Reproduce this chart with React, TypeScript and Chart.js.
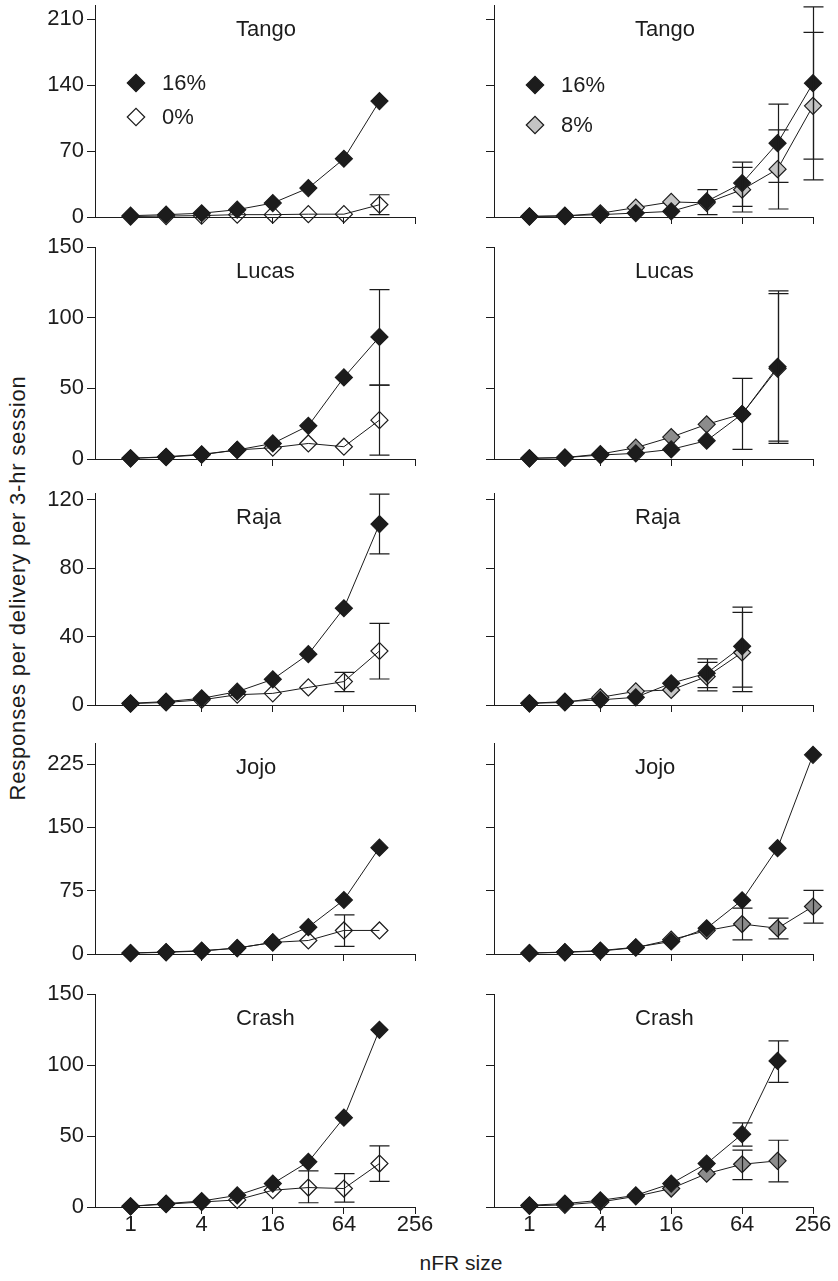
import React, { useEffect, useRef } from 'react';
import { Chart, registerables } from 'chart.js';

Chart.register(...registerables);

// ---------- data ----------
const nfrSizes = [1, 2, 4, 8, 16, 32, 64, 128, 256];
const xTickSizes = [1, 4, 16, 64, 256];

const tangoTicks = [0, 70, 140, 210];
const lucasTicks = [0, 50, 100, 150];
const rajaTicks = [0, 40, 80, 120];
const jojoTicks = [0, 75, 150, 225];
const crashTicks = [0, 50, 100, 150];

type Range = [number, number] | null;

// Tango
const tango16L = [1.4, 2.5, 4, 7.8, 14.8, 30.7, 61.8, 123, null];
const tango0L = [0.5, 1, 1.5, 2.5, 2.5, 3, 3, 13, null];
const tango16LErr: Range[] = [null, null, null, null, null, null, null, null, null];
const tango0LErr: Range[] = [null, null, null, null, null, null, null, [2.5, 23.6], null];
const tango16R = [0.7, 1.4, 2.5, 4.2, 6, 16.6, 36, 78.4, 142];
const tango8R = [0.5, 1, 4, 10, 16, 15, 29, 50.8, 118];
const tango16RErr: Range[] = [null, null, null, null, null, [2.5, 29], [11.3, 58.2], [36.7, 119.7], [61.4, 223]];
const tango8RErr: Range[] = [null, null, null, null, null, null, [5.3, 52.6], [8.5, 92.5], [39.5, 196]];

// Lucas
const lucas16L = [0.5, 1.6, 3.3, 6.4, 11, 23.5, 57.7, 86.4, null];
const lucas0L = [0.5, 1.3, 3, 6.4, 8, 11, 8.7, 27.5, null];
const lucas16LErr: Range[] = [null, null, null, null, null, null, null, [52.3, 119.8], null];
const lucas0LErr: Range[] = [null, null, null, null, null, null, null, [2.8, 52.3], null];
const lucas16R = [0.5, 1, 2.8, 4, 6.8, 13, 31.8, 65.2, null];
const lucas8R = [0.5, 1, 3.5, 8, 15.5, 24.5, 31.8, 64, null];
const lucas16RErr: Range[] = [null, null, null, null, null, null, [6.8, 57], [12.7, 118.9], null];
const lucas8RErr: Range[] = [null, null, null, null, null, null, null, [11, 117], null];

// Raja
const raja16L = [1, 2, 3.9, 7.8, 15, 29.7, 56.6, 105.8, null];
const raja0L = [0.8, 1.5, 3, 6, 6.8, 10.3, 13.7, 31.6, null];
const raja16LErr: Range[] = [null, null, null, null, null, null, null, [88.4, 123.3], null];
const raja0LErr: Range[] = [null, null, null, null, null, null, [7.8, 19.1], [15.2, 47.8], null];
const raja16R = [1, 2, 3, 4.5, 12.7, 18.6, 34.3, null, null];
const raja8R = [1, 1.5, 4.5, 8, 8.8, 16.6, 30.7, null, null];
const raja16RErr: Range[] = [null, null, null, null, null, [10.2, 27], [10.4, 57.2], null, null];
const raja8RErr: Range[] = [null, null, null, null, null, [8.3, 24.9], [7.8, 54.2], null, null];

// Jojo
const jojo16L = [1.2, 2.4, 3.9, 7, 13.7, 31.8, 64, 126, null];
const jojo0L = [1, 2, 3.5, 7, 13.7, 16, 27.9, 27.9, null];
const jojo16LErr: Range[] = [null, null, null, null, null, null, null, null, null];
const jojo0LErr: Range[] = [null, null, null, null, null, null, [9, 46.3], null, null];
const jojo16R = [1.2, 2.3, 4, 8, 14.8, 30.5, 63.7, 125.4, 236];
const jojo8R = [1, 2, 3.5, 7.5, 17, 27.7, 35.5, 30.5, 56.3];
const jojo16RErr: Range[] = [null, null, null, null, null, null, null, null, null];
const jojo8RErr: Range[] = [null, null, null, null, null, null, [16.8, 54.3], [18, 42.6], [36.7, 75.4]];

// Crash
const crash16L = [0.5, 2.4, 4.2, 8.2, 16.5, 31.8, 62.9, 124.8, null];
const crash0L = [0.5, 2, 3.5, 5, 11.8, 13.7, 13, 30.6, null];
const crash16LErr: Range[] = [null, null, null, null, null, null, null, null, null];
const crash0LErr: Range[] = [null, null, null, null, null, [3, 25.4], [3.5, 23.5], [18.1, 43.1], null];
const crash16R = [1.2, 2.4, 4.7, 8.2, 16.5, 30.6, 51.3, 102.9, null];
const crash8R = [0.8, 1.5, 3.5, 7.5, 13, 23.5, 30.1, 32.5, null];
const crash16RErr: Range[] = [null, null, null, null, null, null, [42.9, 59.3], [87.8, 117], null];
const crash8RErr: Range[] = [null, null, null, null, null, null, [19.3, 40], [17.7, 47], null];

// ---------- styling / layout ----------
const FONT = '"Liberation Sans", Arial, Helvetica, sans-serif';
const INK = '#1c1c1c';
const GRAY_LIGHT = '#c4c4c4';
const GRAY_MID = '#8c8c8c';
const OPEN = 'rgba(255,255,255,0)';

const COL_LEFT = [95, 494];
const COL_RIGHT = [415, 813];
const ROW_TOP = [5, 247, 493, 743, 994];
const ROW_BOTTOM = [217, 459, 705, 954, 1207];

interface Panel {
  name: string;
  col: number;
  row: number;
  yMax: number;
  yTicks: number[];
  s16: (number | null)[];
  sB: (number | null)[];
  e16: Range[];
  eB: Range[];
  bFill: string;
  bLabel: string;
  legend?: { y1: number; y2: number };
}

const panels: Panel[] = [
  { name: 'Tango', col: 0, row: 0, yMax: 225, yTicks: tangoTicks, s16: tango16L, sB: tango0L, e16: tango16LErr, eB: tango0LErr, bFill: OPEN, bLabel: '0%', legend: { y1: 78, y2: 112 } },
  { name: 'Tango', col: 1, row: 0, yMax: 225, yTicks: tangoTicks, s16: tango16R, sB: tango8R, e16: tango16RErr, eB: tango8RErr, bFill: GRAY_LIGHT, bLabel: '8%', legend: { y1: 80, y2: 120 } },
  { name: 'Lucas', col: 0, row: 1, yMax: 150, yTicks: lucasTicks, s16: lucas16L, sB: lucas0L, e16: lucas16LErr, eB: lucas0LErr, bFill: OPEN, bLabel: '0%' },
  { name: 'Lucas', col: 1, row: 1, yMax: 150, yTicks: lucasTicks, s16: lucas16R, sB: lucas8R, e16: lucas16RErr, eB: lucas8RErr, bFill: GRAY_MID, bLabel: '8%' },
  { name: 'Raja', col: 0, row: 2, yMax: 124, yTicks: rajaTicks, s16: raja16L, sB: raja0L, e16: raja16LErr, eB: raja0LErr, bFill: OPEN, bLabel: '0%' },
  { name: 'Raja', col: 1, row: 2, yMax: 124, yTicks: rajaTicks, s16: raja16R, sB: raja8R, e16: raja16RErr, eB: raja8RErr, bFill: GRAY_LIGHT, bLabel: '8%' },
  { name: 'Jojo', col: 0, row: 3, yMax: 250, yTicks: jojoTicks, s16: jojo16L, sB: jojo0L, e16: jojo16LErr, eB: jojo0LErr, bFill: OPEN, bLabel: '0%' },
  { name: 'Jojo', col: 1, row: 3, yMax: 250, yTicks: jojoTicks, s16: jojo16R, sB: jojo8R, e16: jojo16RErr, eB: jojo8RErr, bFill: GRAY_MID, bLabel: '8%' },
  { name: 'Crash', col: 0, row: 4, yMax: 150, yTicks: crashTicks, s16: crash16L, sB: crash0L, e16: crash16LErr, eB: crash0LErr, bFill: OPEN, bLabel: '0%' },
  { name: 'Crash', col: 1, row: 4, yMax: 150, yTicks: crashTicks, s16: crash16R, sB: crash8R, e16: crash16RErr, eB: crash8RErr, bFill: GRAY_MID, bLabel: '8%' },
];

function toPoints(vals: (number | null)[]) {
  return nfrSizes
    .map((n, i) => ({ x: Math.log2(n), y: vals[i] }))
    .filter((p) => p.y !== null && p.y !== undefined) as { x: number; y: number }[];
}

function geometry(p: Panel) {
  const yAxisW = p.col === 0 ? 60 : 20;
  const padTop = p.row === 0 ? 5 : 12;
  const padRight = 24;
  const xAxisH = p.row === 4 ? 34 : 12;
  const areaW = COL_RIGHT[p.col] - COL_LEFT[p.col];
  const areaH = ROW_BOTTOM[p.row] - ROW_TOP[p.row];
  return {
    yAxisW,
    padTop,
    padRight,
    xAxisH,
    left: COL_LEFT[p.col] - yAxisW,
    top: ROW_TOP[p.row] - padTop,
    width: yAxisW + areaW + padRight,
    height: padTop + areaH + xAxisH,
  };
}

function diamond(ctx: CanvasRenderingContext2D, x: number, y: number, r: number, fill: string) {
  ctx.beginPath();
  ctx.moveTo(x - r, y);
  ctx.lineTo(x, y - r);
  ctx.lineTo(x + r, y);
  ctx.lineTo(x, y + r);
  ctx.closePath();
  ctx.fillStyle = fill;
  ctx.fill();
  ctx.lineWidth = 1.2;
  ctx.strokeStyle = INK;
  ctx.stroke();
}

function PanelChart({ p }: { p: Panel }) {
  const ref = useRef<HTMLCanvasElement | null>(null);
  const g = geometry(p);

  useEffect(() => {
    if (!ref.current) return;
    const overlay = {
      id: 'panelOverlay',
      afterDatasetsDraw(chart: any) {
        const ctx = chart.ctx as CanvasRenderingContext2D;
        const xs = chart.scales.x;
        const ys = chart.scales.y;
        ctx.save();
        ctx.strokeStyle = INK;
        ctx.lineWidth = 1.2;
        [p.eB, p.e16].forEach((errs) => {
          errs.forEach((e, i) => {
            if (!e) return;
            const px = Math.round(xs.getPixelForValue(Math.log2(nfrSizes[i]))) + 0.5;
            const lo = ys.getPixelForValue(e[0]);
            const hi = ys.getPixelForValue(e[1]);
            ctx.beginPath();
            ctx.moveTo(px, lo);
            ctx.lineTo(px, hi);
            ctx.moveTo(px - 10, hi);
            ctx.lineTo(px + 10, hi);
            ctx.moveTo(px - 10, lo);
            ctx.lineTo(px + 10, lo);
            ctx.stroke();
          });
        });
        ctx.restore();
      },
      afterDraw(chart: any) {
        const ctx = chart.ctx as CanvasRenderingContext2D;
        const area = chart.chartArea;
        ctx.save();
        ctx.fillStyle = INK;
        ctx.font = `22px ${FONT}`;
        ctx.textAlign = 'left';
        ctx.textBaseline = 'middle';
        ctx.fillText(p.name, area.left + 141, area.top + 25);
        if (p.legend) {
          const lx = area.left + 41;
          diamond(ctx, lx, area.top + p.legend.y1, 8.7, INK);
          diamond(ctx, lx, area.top + p.legend.y2, 8.7, p.bFill === OPEN ? '#ffffff' : p.bFill);
          ctx.fillStyle = INK;
          ctx.fillText('16%', area.left + 67, area.top + p.legend.y1 + 1);
          ctx.fillText(p.bLabel, area.left + 67, area.top + p.legend.y2 + 1);
        }
        ctx.restore();
      },
    };

    const chart = new Chart(ref.current, {
      type: 'line',
      data: {
        datasets: [
          {
            label: '16%',
            data: toPoints(p.s16),
            borderColor: INK,
            borderWidth: 1,
            pointStyle: 'rectRot',
            pointRadius: 8.5,
            pointBackgroundColor: INK,
            pointBorderColor: INK,
            pointBorderWidth: 1.2,
            tension: 0,
            clip: false,
          } as any,
          {
            label: p.bLabel,
            data: toPoints(p.sB),
            borderColor: INK,
            borderWidth: 1,
            pointStyle: 'rectRot',
            pointRadius: 8.5,
            pointBackgroundColor: p.bFill,
            pointBorderColor: INK,
            pointBorderWidth: 1.2,
            tension: 0,
            clip: false,
          } as any,
        ],
      },
      options: {
        animation: false,
        responsive: false,
        events: [],
        layout: {
          padding: { top: g.padTop, right: g.padRight, left: 0, bottom: 0 },
          autoPadding: false,
        } as any,
        plugins: {
          legend: { display: false },
          tooltip: { enabled: false },
          title: { display: false },
        },
        scales: {
          x: {
            type: 'linear',
            min: -1,
            max: 8,
            afterBuildTicks: (s: any) => {
              s.ticks = xTickSizes.map((v) => ({ value: Math.log2(v) }));
            },
            afterFit: (s: any) => {
              s.height = g.xAxisH;
              s.paddingLeft = 0;
              s.paddingRight = 0;
              s.paddingTop = 0;
              s.paddingBottom = 0;
            },
            grid: { display: true, drawOnChartArea: false, drawTicks: true, tickLength: 7, color: INK, lineWidth: 1 },
            border: { display: true, color: INK, width: 1 },
            ticks: {
              autoSkip: false,
              maxRotation: 0,
              padding: -2,
              color: INK,
              font: { family: FONT, size: 22 },
              callback: (v: any) => (p.row === 4 ? String(Math.round(Math.pow(2, Number(v)))) : ''),
            },
          },
          y: {
            type: 'linear',
            min: 0,
            max: p.yMax,
            afterBuildTicks: (s: any) => {
              s.ticks = p.yTicks.map((v) => ({ value: v }));
            },
            afterFit: (s: any) => {
              s.width = g.yAxisW;
              s.paddingLeft = 0;
              s.paddingRight = 0;
              s.paddingTop = 0;
              s.paddingBottom = 0;
            },
            grid: { display: true, drawOnChartArea: false, drawTicks: true, tickLength: 8, color: INK, lineWidth: 1 },
            border: { display: true, color: INK, width: 1 },
            ticks: {
              padding: 3,
              color: INK,
              font: { family: FONT, size: 22 },
              callback: (v: any) => (p.col === 0 ? String(v) : ''),
            },
          },
        },
      },
      plugins: [overlay],
    } as any);
    return () => chart.destroy();
  }, []);

  return (
    <canvas
      ref={ref}
      width={g.width}
      height={g.height}
      style={{ position: 'absolute', left: g.left, top: g.top, width: g.width, height: g.height }}
    />
  );
}

export default function App() {
  return (
    <div
      style={{
        position: 'absolute',
        left: 0,
        top: 0,
        width: 838,
        height: 1281,
        background: '#ffffff',
        overflow: 'hidden',
        fontFamily: FONT,
        color: INK,
      }}
    >
      {panels.map((p, i) => (
        <PanelChart key={i} p={p} />
      ))}
      <div
        style={{
          position: 'absolute',
          left: 18,
          top: 588,
          transform: 'translate(-50%, -50%) rotate(-90deg)',
          whiteSpace: 'nowrap',
          fontSize: 22,
          letterSpacing: 0.8,
          lineHeight: 1,
        }}
      >
        Responses per delivery per 3-hr session
      </div>
      <div
        style={{
          position: 'absolute',
          left: 461,
          top: 1262,
          transform: 'translate(-50%, -50%)',
          whiteSpace: 'nowrap',
          fontSize: 21,
          lineHeight: 1,
        }}
      >
        nFR size
      </div>
    </div>
  );
}
